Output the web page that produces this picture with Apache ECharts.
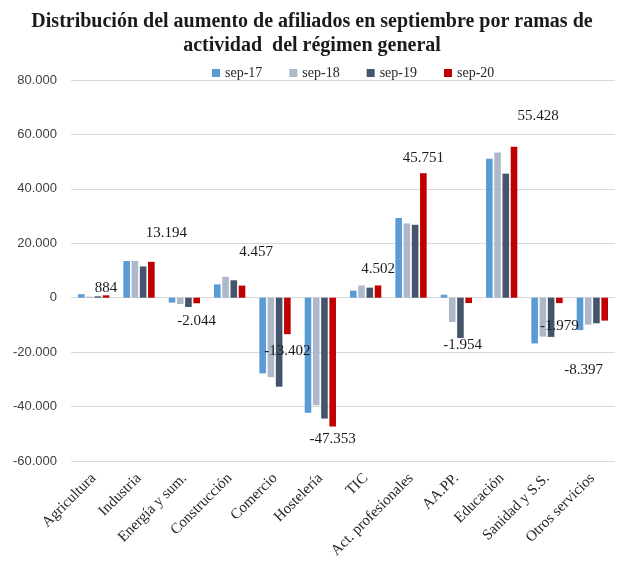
<!DOCTYPE html>
<html lang="es">

<head>
  <meta charset="UTF-8">
  <title>Afiliados por ramas</title>
  <script src="https://cdn.jsdelivr.net/npm/echarts@6.0.0/dist/echarts.min.js"></script>
</head>

<body style="margin:0;background:#fff;">
  <div id="main" style="width:624px;height:563px;"></div>

  <script type="text/javascript">
    // Data
    const categories = ['Agricultura', 'Industria', 'Energía y sum.', 'Construcción', 'Comercio', 'Hostelería',
      'TIC', 'Act. profesionales', 'AA.PP.', 'Educación', 'Sanidad y S.S.', 'Otros servicios'];
    const seriesNames = ['sep-17', 'sep-18', 'sep-19', 'sep-20'];
    const sep17 = [1300, 13500, -1800, 4900, -27800, -42300, 2600, 29300, 1100, 51100, -16800, -11900];
    const sep18 = [400, 13500, -2300, 7700, -29200, -39500, 4500, 27300, -8900, 53400, -14300, -9900];
    const sep19 = [500, 11500, -3400, 6400, -32700, -44400, 3700, 26800, -14800, 45600, -14400, -9400];
    const sep20 = [884, 13194, -2044, 4457, -13402, -47353, 4502, 45751, -1954, 55428, -1979, -8397];

    const colors = ['#5B9BD5', '#ADB9CA', '#44546A', '#C00000'];
    // label nudges for sep-20 (where Excel left them)
    const labelNudges = [[0, 0], [15, -21], [0, 10], [14, -26], [0, 9], [0, 5],
      [0, -9], [0, -8], [-6, 35], [24, -23], [0, 15], [-21, 42]];

    const fmt = v => {
      const s = Math.abs(v).toString().replace(/\B(?=(\d{3})+(?!\d))/g, '.');
      return (v < 0 ? '-' : '') + s;
    };

    const serif = '"Liberation Serif", "Times New Roman", serif';
    let myChart = echarts.init(document.getElementById('main'));

    const allValues = [sep17, sep18, sep19, sep20];
    const series = allValues.map((vals, i) => ({
      name: seriesNames[i],
      type: 'bar',
      barGap: '25%',
      barCategoryGap: '31%',
      itemStyle: { color: colors[i] },
      data: i < 3 ? vals : vals.map((v, k) => ({
        value: v,
        label: {
          show: true,
          position: v >= 0 ? 'top' : 'bottom',
          distance: 0,
          offset: labelNudges[k],
          formatter: p => fmt(p.value),
          fontFamily: serif,
          fontSize: 15,
          color: '#1a1a1a'
        }
      }))
    }));

    const options = {
      animation: false,
      title: {
        text: 'Distribución del aumento de afiliados en septiembre por ramas de\nactividad  del régimen general',
        left: 'center',
        top: 5,
        textStyle: { fontFamily: serif, fontSize: 20, fontWeight: 'bold', color: '#1a1a1a', lineHeight: 24 }
      },
      legend: {
        data: seriesNames,
        top: 61,
        left: 207,
        icon: 'rect',
        itemWidth: 8,
        itemHeight: 8,
        itemGap: 27,
        textStyle: { fontFamily: serif, fontSize: 14, color: '#262626' }
      },
      grid: { left: 71, right: 9, top: 80, bottom: 102, containLabel: false },
      xAxis: {
        type: 'category',
        data: categories,
        axisLine: { show: false, onZero: false },
        axisTick: { show: false },
        axisLabel: { rotate: 45, interval: 0, margin: 15, fontFamily: serif, fontSize: 15, color: '#262626' }
      },
      yAxis: {
        type: 'value',
        min: -60000,
        max: 80000,
        interval: 20000,
        axisLine: { show: false },
        axisTick: { show: false },
        axisLabel: {
          margin: 14, fontFamily: '"Liberation Sans", Arial, sans-serif', fontSize: 13, color: '#404040',
          formatter: v => fmt(v)
        },
        splitLine: { lineStyle: { color: '#d9d9d9' } }
      },
      series: series
    };

    myChart.setOption(options);
  </script>
</body>

</html>
